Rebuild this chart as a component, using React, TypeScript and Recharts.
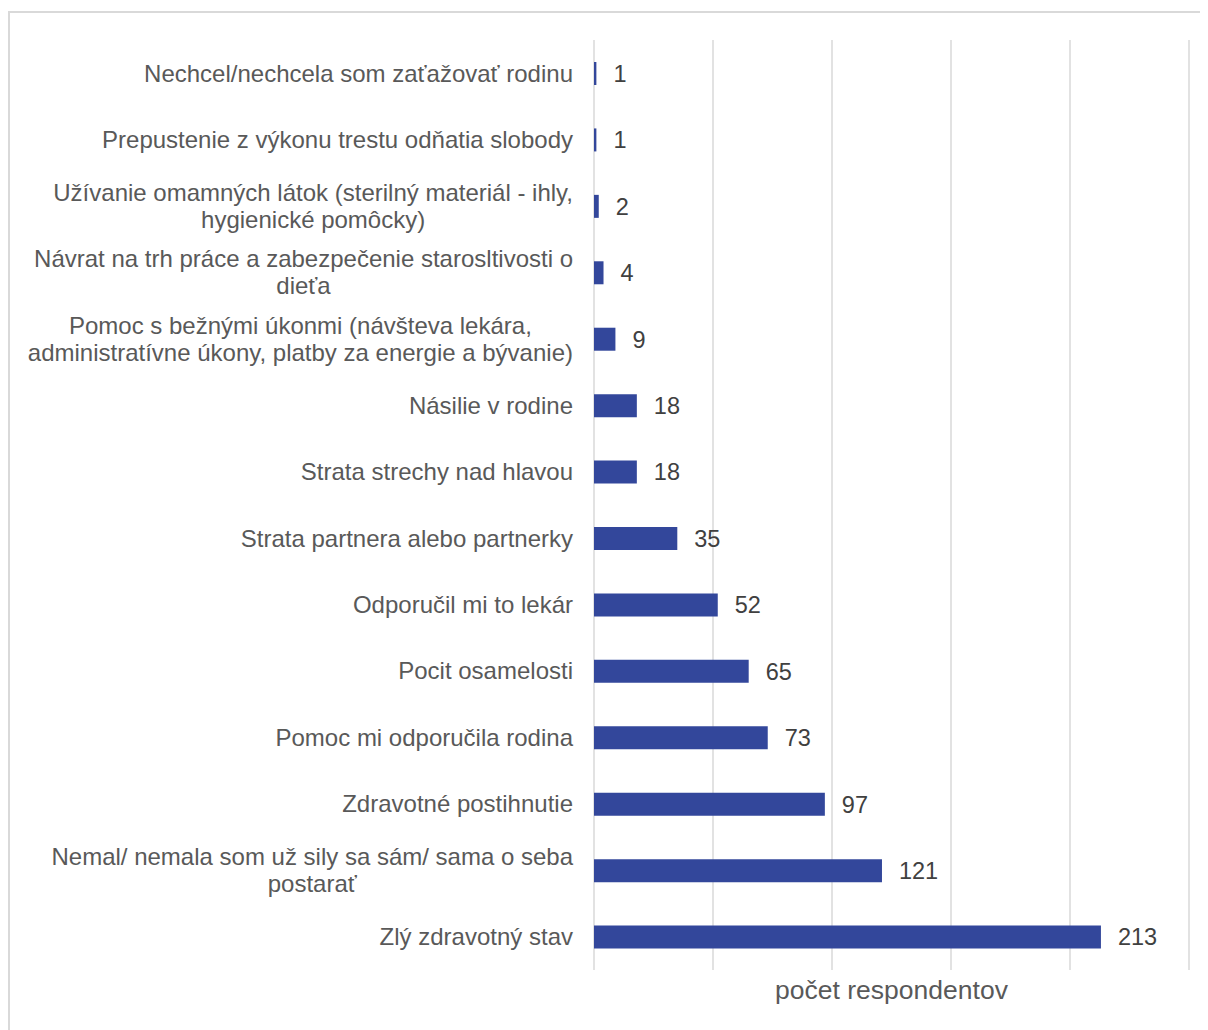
import React from "react";
import { BarChart, Bar, XAxis, YAxis, CartesianGrid, LabelList } from "recharts";

// dôvody (zhora nadol) a počet respondentov
const reasons = [
  "Nechcel/nechcela som zaťažovať rodinu",
  "Prepustenie z výkonu trestu odňatia slobody",
  "Užívanie omamných látok (sterilný materiál - ihly,\nhygienické pomôcky)",
  "Návrat na trh práce a zabezpečenie starosltivosti o\ndieťa",
  "Pomoc s bežnými úkonmi (návšteva lekára,\nadministratívne úkony, platby za energie a bývanie)",
  "Násilie v rodine",
  "Strata strechy nad hlavou",
  "Strata partnera alebo partnerky",
  "Odporučil mi to lekár",
  "Pocit osamelosti",
  "Pomoc mi odporučila rodina",
  "Zdravotné postihnutie",
  "Nemal/ nemala som už sily sa sám/ sama o seba\npostarať",
  "Zlý zdravotný stav",
];
const counts = [1, 1, 2, 4, 9, 18, 18, 35, 52, 65, 73, 97, 121, 213];
const xTicks = [0, 50, 100, 150, 200, 250];

const data = reasons.map((name, i) => ({ name, value: counts[i] }));

const FONT = "'Liberation Sans', Arial, sans-serif";
const LABEL_SIZE = 24;

let ctx: CanvasRenderingContext2D | null = null;
function textWidth(s: string) {
  if (!ctx) ctx = document.createElement("canvas").getContext("2d");
  if (!ctx) return s.length * 11;
  ctx.font = `${LABEL_SIZE}px ${FONT}`;
  return ctx.measureText(s).width;
}

function CategoryTick(props: any) {
  const { x, y, payload } = props;
  const lines: string[] = String(payload.value).split("\n");
  const blockW = Math.max(...lines.map(textWidth));
  const cx = x - blockW / 2;
  const lh = 27;
  const y0 = y - ((lines.length - 1) * lh) / 2;
  return (
    <g>
      {lines.map((l, i) => (
        <text
          key={i}
          x={cx}
          y={y0 + i * lh}
          textAnchor="middle"
          dy="0.35em"
          fill="#595959"
          fontSize={LABEL_SIZE}
          fontFamily={FONT}
        >
          {l}
        </text>
      ))}
    </g>
  );
}

// osa X bez popisov, len kvôli mriežke
const NoTick = () => <g />;

export default function App() {
  return (
    <div
      style={{
        marginTop: 3,
        width: 1220,
        height: 1040,
        border: "2px solid #d9d9d9",
        boxSizing: "border-box",
        fontFamily: FONT,
        background: "#fff",
      }}
    >
      <BarChart
        width={1200}
        height={1017}
        data={data}
        layout="vertical"
        margin={{ top: 27, right: 21, bottom: 0, left: 0 }}
        barSize={23}
      >
        <CartesianGrid horizontal={false} stroke="#d9d9d9" strokeWidth={1.5} />
        <XAxis
          type="number"
          domain={[0, 250]}
          ticks={xTicks}
          interval={0}
          tick={<NoTick />}
          tickLine={false}
          axisLine={false}
          height={60}
          label={{
            value: "počet respondentov",
            position: "insideBottom",
            offset: 31,
            fill: "#595959",
            fontSize: 26.5,
            fontFamily: FONT,
          }}
        />
        <YAxis
          type="category"
          dataKey="name"
          width={584}
          axisLine={false}
          tickLine={false}
          tickSize={0}
          tickMargin={21}
          interval={0}
          tick={<CategoryTick />}
        />
        <Bar dataKey="value" fill="#33479b" isAnimationActive={false}>
          <LabelList
            dataKey="value"
            position="right"
            offset={17}
            fill="#404040"
            fontSize={23.5}
            fontFamily={FONT}
          />
        </Bar>
      </BarChart>
    </div>
  );
}
